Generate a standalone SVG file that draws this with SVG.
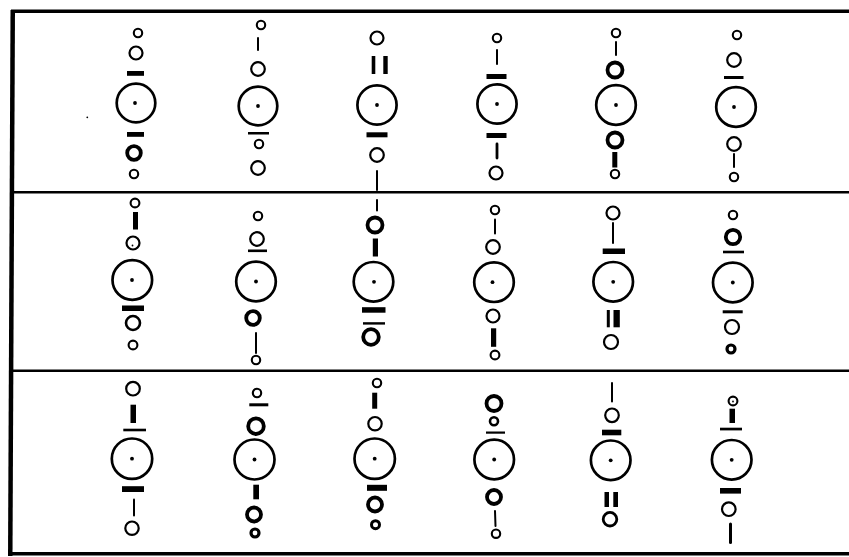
<svg xmlns="http://www.w3.org/2000/svg" width="849" height="557" viewBox="0 0 849 557">
<style>
.b{fill:none;stroke:#000;stroke-width:2.7}
.m{fill:none;stroke:#000;stroke-width:2.2}
.s{fill:none;stroke:#000;stroke-width:2.1}
.t{fill:none;stroke:#000;stroke-width:3.8}
.l{stroke:#000;stroke-width:2;stroke-linecap:round}
rect,.d{fill:#000}
</style>
<rect width="849" height="557" style="fill:#fff"/>
<g id="frame">
<rect x="11" y="9.5" width="838" height="3.5"/>
<polygon points="10.5,10 15,10 12.5,556 8,556"/>
<rect x="12" y="191" width="837" height="2.5"/>
<rect x="10" y="369.5" width="839" height="2.5"/>
<rect x="8" y="552" width="841" height="3.5"/>
<circle class="d" cx="87.3" cy="117.3" r="0.9"/>
</g>
<g id="r1c1">
<circle class="s" cx="138" cy="33" r="4.2"/>
<circle class="m" cx="136" cy="53" r="6.5"/>
<rect x="127" y="71" width="17" height="4.8"/>
<circle class="b" cx="136" cy="103" r="19.3"/>
<circle class="d" cx="135" cy="103" r="1.9"/>
<rect x="127" y="132" width="17" height="4.8"/>
<circle class="t" cx="134" cy="153" r="6.8"/>
<circle class="s" cx="134" cy="174" r="4.2"/>
</g>
<g id="r1c2">
<circle class="s" cx="261" cy="25" r="4.2"/>
<line class="l" x1="258" y1="38" x2="258" y2="50"/>
<circle class="m" cx="258" cy="69" r="6.8"/>
<circle class="b" cx="258" cy="106" r="19.3"/>
<circle class="d" cx="258" cy="106" r="1.9"/>
<rect x="248" y="132" width="21" height="2.5"/>
<circle class="s" cx="259" cy="144" r="4.2"/>
<circle class="m" cx="258" cy="168" r="6.8"/>
</g>
<g id="r1c3">
<circle class="m" cx="377" cy="38" r="6.5"/>
<rect x="371.7" y="56" width="3.6" height="18"/>
<rect x="383.3" y="56" width="4.4" height="18"/>
<circle class="b" cx="377" cy="105" r="19.6"/>
<circle class="d" cx="377" cy="105" r="1.9"/>
<rect x="366.5" y="132.3" width="21" height="5"/>
<circle class="m" cx="377" cy="155" r="6.8"/>
<line class="l" x1="377" y1="171" x2="377" y2="190"/>
</g>
<g id="r1c4">
<circle class="s" cx="497" cy="38" r="4.2"/>
<line class="l" x1="497" y1="50" x2="497" y2="64"/>
<rect x="486.5" y="74" width="20" height="5"/>
<circle class="b" cx="497" cy="104" r="19.6"/>
<circle class="d" cx="497" cy="104" r="1.9"/>
<rect x="486.5" y="133" width="20" height="5"/>
<line class="l" x1="497" y1="144" x2="497" y2="158" style="stroke-width:2.8"/>
<circle class="m" cx="496" cy="173" r="6.5"/>
</g>
<g id="r1c5">
<circle class="s" cx="616" cy="33" r="4.2"/>
<line class="l" x1="616" y1="42" x2="616" y2="55"/>
<circle class="t" cx="615" cy="70" r="7.5"/>
<circle class="b" cx="616" cy="105" r="19.8"/>
<circle class="d" cx="616" cy="105" r="1.9"/>
<circle class="t" cx="615" cy="140" r="7.5"/>
<rect x="612.3" y="152" width="5" height="15.5"/>
<circle class="s" cx="615" cy="174" r="4.2"/>
</g>
<g id="r1c6">
<circle class="s" cx="737" cy="35" r="4.2"/>
<circle class="m" cx="734" cy="60" r="6.8"/>
<rect x="724" y="76" width="19.5" height="3"/>
<circle class="b" cx="736" cy="107" r="19.8"/>
<circle class="d" cx="734" cy="107" r="1.9"/>
<circle class="m" cx="734" cy="144" r="6.8"/>
<line class="l" x1="734" y1="154" x2="734" y2="167"/>
<circle class="s" cx="734" cy="177" r="4.2"/>
</g>
<g id="r2c1">
<circle class="s" cx="135" cy="203" r="4.4"/>
<rect x="133" y="212" width="5" height="17.5"/>
<circle class="m" cx="133" cy="243" r="6.5"/>
<circle class="d" cx="132.5" cy="245.5" r="0.9"/>
<circle class="b" cx="132.3" cy="280" r="19.8"/>
<circle class="d" cx="132" cy="280" r="1.9"/>
<rect x="122" y="305.5" width="22" height="5.5"/>
<circle class="m" cx="133" cy="323" r="7" style="stroke-width:2.6"/>
<circle class="s" cx="133" cy="345" r="4.4"/>
</g>
<g id="r2c2">
<circle class="s" cx="258" cy="216" r="4.2"/>
<circle class="m" cx="257" cy="239" r="6.8"/>
<rect x="248" y="249.5" width="19" height="2.6"/>
<circle class="b" cx="256" cy="281.5" r="19.8"/>
<circle class="d" cx="256" cy="281.5" r="1.9"/>
<circle class="t" cx="253" cy="318" r="6.8"/>
<line class="l" x1="256" y1="333" x2="256" y2="353"/>
<circle class="s" cx="256" cy="360" r="4.2"/>
</g>
<g id="r2c3">
<line class="l" x1="377" y1="200" x2="377" y2="210.5"/>
<circle class="t" cx="375" cy="225" r="7.5"/>
<rect x="372.8" y="238.5" width="5.2" height="18"/>
<circle class="b" cx="373.5" cy="281.8" r="19.8"/>
<circle class="d" cx="374" cy="281.8" r="1.9"/>
<rect x="362" y="307.2" width="23.5" height="5.5"/>
<rect x="363" y="322.2" width="22" height="2.4"/>
<circle class="t" cx="371" cy="337" r="7.8"/>
</g>
<g id="r2c4">
<circle class="s" cx="495" cy="210" r="4.2"/>
<line class="l" x1="495" y1="219.5" x2="495" y2="233.5"/>
<circle class="m" cx="493" cy="247" r="6.8"/>
<circle class="b" cx="494" cy="282.2" r="19.8"/>
<circle class="d" cx="492.5" cy="282.2" r="1.9"/>
<circle class="m" cx="493" cy="316" r="6.5"/>
<rect x="491" y="328.3" width="5.2" height="18.5"/>
<circle class="s" cx="495" cy="355" r="4.4"/>
</g>
<g id="r2c5">
<circle class="m" cx="613" cy="213" r="6.5"/>
<line class="l" x1="613" y1="223" x2="613" y2="243"/>
<rect x="602.7" y="248.5" width="22.3" height="5.5"/>
<circle class="b" cx="613.2" cy="281.8" r="19.8"/>
<circle class="d" cx="613.2" cy="281.8" r="1.9"/>
<rect x="606.8" y="310" width="3" height="17.3"/>
<rect x="613.5" y="310" width="6.3" height="17.3"/>
<circle class="m" cx="611" cy="342" r="7"/>
</g>
<g id="r2c6">
<circle class="s" cx="733" cy="215" r="4.2"/>
<circle class="t" cx="733" cy="237" r="7.2"/>
<rect x="723" y="250.7" width="21" height="2.6"/>
<circle class="b" cx="732.8" cy="282.5" r="19.8"/>
<circle class="d" cx="732.8" cy="282.5" r="1.9"/>
<rect x="722.7" y="310.3" width="20" height="3"/>
<circle class="m" cx="732" cy="327" r="7"/>
<circle class="s" cx="731" cy="349" r="4" style="stroke-width:3.2"/>
</g>
<g id="r3c1">
<circle class="m" cx="133" cy="388.7" r="6.8"/>
<rect x="130.5" y="404.7" width="5.5" height="18.3"/>
<rect x="123.3" y="428.7" width="22.7" height="2.6"/>
<circle class="b" cx="132" cy="458.7" r="20.2"/>
<circle class="d" cx="132" cy="458.7" r="1.9"/>
<rect x="122" y="486.2" width="22" height="5.8"/>
<line class="l" x1="134" y1="499.5" x2="134" y2="515.5"/>
<circle class="m" cx="132" cy="528.2" r="6.7"/>
</g>
<g id="r3c2">
<circle class="s" cx="257" cy="393" r="4.2"/>
<rect x="249.3" y="403.3" width="19" height="3"/>
<circle class="t" cx="256" cy="426.2" r="7.8"/>
<circle class="b" cx="254.5" cy="459.5" r="20"/>
<circle class="d" cx="254.5" cy="459.5" r="1.9"/>
<rect x="253.3" y="484.7" width="5.7" height="14.6"/>
<circle class="t" cx="254" cy="514.5" r="7"/>
<circle class="s" cx="255" cy="533" r="4" style="stroke-width:3.2"/>
</g>
<g id="r3c3">
<circle class="s" cx="377" cy="383" r="4.2"/>
<rect x="372.2" y="392.7" width="5" height="16"/>
<circle class="m" cx="375" cy="423.7" r="6.7"/>
<circle class="b" cx="374.7" cy="458.7" r="20.2"/>
<circle class="d" cx="374.7" cy="458.7" r="1.9"/>
<rect x="367" y="484.8" width="20" height="6"/>
<circle class="t" cx="375" cy="504.5" r="7"/>
<circle class="s" cx="375.5" cy="524.7" r="4" style="stroke-width:3"/>
</g>
<g id="r3c4">
<circle class="t" cx="494" cy="403.5" r="7.5"/>
<circle class="s" cx="494" cy="421.3" r="4" style="stroke-width:2.6"/>
<rect x="486" y="431.5" width="19" height="2.2"/>
<circle class="b" cx="494.2" cy="459.5" r="19.8"/>
<circle class="d" cx="494.2" cy="459.5" r="1.9"/>
<circle class="t" cx="494" cy="497" r="7"/>
<line class="l" x1="495" y1="511" x2="495.5" y2="526"/>
<circle class="s" cx="496" cy="533.7" r="4.2"/>
</g>
<g id="r3c5">
<line class="l" x1="612" y1="383" x2="612" y2="401.5"/>
<circle class="m" cx="612" cy="415.3" r="6.8"/>
<rect x="602" y="429.7" width="19.3" height="5.6"/>
<circle class="b" cx="610.7" cy="460.3" r="19.8"/>
<circle class="d" cx="610.7" cy="460.3" r="1.9"/>
<rect x="604.5" y="492" width="4.5" height="15"/>
<rect x="613.3" y="492" width="4.7" height="15"/>
<circle class="m" cx="610" cy="519.2" r="6.8" style="stroke-width:2.8"/>
</g>
<g id="r3c6">
<circle class="s" cx="733" cy="401" r="4.4"/>
<circle class="d" cx="733" cy="401.5" r="0.9"/>
<rect x="729.5" y="408.7" width="5.5" height="14.3"/>
<rect x="720" y="427.7" width="22" height="2.7"/>
<circle class="b" cx="731.7" cy="459.8" r="19.8"/>
<circle class="d" cx="731.7" cy="459.8" r="1.9"/>
<rect x="720" y="488" width="21" height="5.6"/>
<circle class="m" cx="728.8" cy="509.2" r="6.8"/>
<line class="l" x1="730.5" y1="524" x2="730.5" y2="542.5" style="stroke-width:3"/>
</g>
</svg>
